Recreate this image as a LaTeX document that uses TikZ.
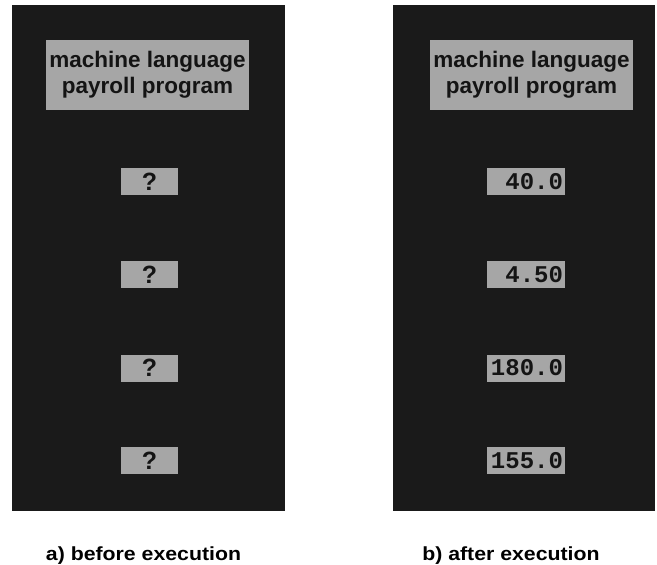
\documentclass[tikz,border=0pt]{standalone}
\usepackage{fontspec}
\setmainfont{Liberation Sans}
\newfontfamily\titlefont{Liberation Sans Bold}
\newfontfamily\capfont[FakeStretch=1.12]{Liberation Sans Bold}
\newfontfamily\numfont{Liberation Mono Bold}
\definecolor{paneldark}{HTML}{1A1A1A}
\definecolor{boxgray}{HTML}{A6A6A6}
\definecolor{inkdark}{HTML}{141414}
\begin{document}
\begin{tikzpicture}[x=1pt,y=-1pt,
  panel/.style={fill=paneldark, draw=none, inner sep=0pt, outer sep=0pt},
  titlebox/.style={fill=boxgray, draw=none, inner sep=0pt, minimum width=203pt, minimum height=70pt,
     align=center, text=inkdark, font=\titlefont\fontsize{22.5}{26}\selectfont},
  qbox/.style={fill=boxgray, draw=none, inner sep=0pt, minimum width=57pt, minimum height=27pt,
     text=inkdark, font=\titlefont\fontsize{25}{25}\selectfont},
  numbox/.style={fill=boxgray, draw=none, inner sep=2pt, text width=74pt, align=right, minimum height=27pt,
     text=inkdark, font=\numfont\fontsize{24}{24}\selectfont},
  captext/.style={anchor=base, font=\capfont\fontsize{19}{22}\selectfont, text=black}]
\useasboundingbox (0,0) rectangle (657,565);
\fill[white] (0,0) rectangle (657,565);
% panels
\node[panel, minimum width=273pt, minimum height=506pt] (pa) at (148.5,258) {};
\node[panel, minimum width=262pt, minimum height=506pt] (pb) at (524,258) {};
% title boxes
\node[titlebox] (ta) at (147.5,75) {machine language\\payroll program};
\node[titlebox] (tb) at (531.5,75) {machine language\\payroll program};
% left: unknown values
\node[qbox] (qa1) at (149.5,181.5) {?};
\node[qbox] (qa2) at (149.5,274.5) {?};
\node[qbox] (qa3) at (149.5,368) {?};
\node[qbox] (qa4) at (149.5,460.5) {?};
% right: values after execution
\node[numbox] (nb1) at (526,181.5) {40.0};
\node[numbox] (nb2) at (526,274.5) {4.50};
\node[numbox] (nb3) at (526,368) {180.0};
\node[numbox] (nb4) at (526,460.5) {155.0};
% captions
\node[captext] (ca) at (143.5,560) {a) before execution};
\node[captext] (cb) at (511,560) {b) after execution};
\end{tikzpicture}
\end{document}
